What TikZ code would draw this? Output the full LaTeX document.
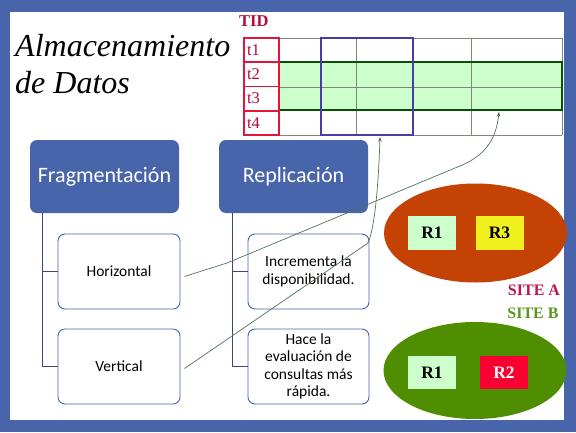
\documentclass[tikz,border=0pt]{standalone}
\usepackage{fontspec}
\setmainfont{Liberation Serif}
\newfontfamily\calib{Carlito}
\usetikzlibrary{arrows.meta,shapes.geometric}

\definecolor{frameblue}{RGB}{72,100,170}
\definecolor{treeblue}{RGB}{60,70,120}
\definecolor{tidred}{RGB}{228,20,60}
\definecolor{tidtext}{RGB}{180,10,60}
\definecolor{gridgray}{RGB}{120,140,120}
\definecolor{bandfill}{RGB}{204,255,204}
\definecolor{banddraw}{RGB}{10,80,10}
\definecolor{colblue}{RGB}{72,60,170}
\definecolor{siteared}{RGB}{196,66,4}
\definecolor{sitebgreen}{RGB}{78,142,0}
\definecolor{sitealabel}{RGB}{190,20,80}
\definecolor{siteblabel}{RGB}{90,150,30}
\definecolor{relgreen}{RGB}{204,255,204}
\definecolor{relyellow}{RGB}{240,240,30}
\definecolor{relred}{RGB}{250,0,50}
\definecolor{linkgreen}{RGB}{80,115,85}

\tikzset{
  headbox/.style={rounded corners=7pt, fill=frameblue, text=white, minimum width=149pt,
    minimum height=73pt, font=\calib\fontsize{22}{26}\selectfont},
  itembox/.style={rounded corners=7pt, draw=frameblue, fill=white, line width=0.9pt,
    minimum width=122pt, minimum height=75pt, align=center,
    font=\calib\fontsize{15.5}{17.5}\selectfont},
  treeline/.style={draw=treeblue, line width=0.9pt},
  tidcell/.style={draw=tidred, line width=1.8pt, minimum height=24.25pt, text width=29pt,
    inner sep=3pt, align=left, text=tidtext, font=\fontsize{16.5}{16.5}\selectfont},
  relbox/.style={minimum width=48pt, minimum height=34pt, inner sep=0pt,
    font=\bfseries\fontsize{17.5}{17.5}\selectfont},
  siteellipse/.style={ellipse, minimum width=183pt, minimum height=99pt, inner sep=0pt},
  sitelabel/.style={font=\bfseries\fontsize{16}{16}\selectfont, inner sep=0pt},
  link/.style={draw=linkgreen, line width=0.7pt, -{Stealth[length=5pt,width=3.5pt]}}
}

\begin{document}
\begin{tikzpicture}[x=1pt,y=-1pt]
  % slide frame
  \fill[frameblue] (0,0) rectangle (576,432);
  \fill[white] (10,12) rectangle (564,420);

  \node[anchor=base west, inner sep=0pt, align=left,
    font=\itshape\fontsize{32}{37}\selectfont] (title) at (15,93) {Almacenamiento\\de Datos};

  % table
  \node[fill=bandfill, minimum width=283pt, minimum height=48pt, inner sep=0pt] (band) at (420.5,86) {};
  \foreach \y in {38,62,87,110,135}
    \draw[gridgray, line width=0.6pt] (279,\y) -- (562,\y);
  \foreach \x in {279,321,356,413,471,562}
    \draw[gridgray, line width=0.6pt] (\x,38) -- (\x,135);
  \draw[banddraw, line width=1.8pt] (band.south west) rectangle (band.north east);
  \node[draw=colblue, line width=1.8pt, minimum width=92pt, minimum height=97pt, inner sep=0pt]
    (colsel) at (367,86.5) {};
  \node[text=tidtext, font=\bfseries\fontsize{16.5}{16.5}\selectfont, anchor=west, inner sep=0pt]
    (tid) at (239,21) {TID};
  \foreach \t [count=\i from 0] in {t1,t2,t3,t4}
    \node[tidcell] (\t) at (261.5,{50.1+24.25*\i}) {\t};

  % hierarchy
  \node[headbox] (frag) at (104.5,176.5) {Fragmentación};
  \node[headbox] (repl) at (293.5,176.5) {Replicación};
  \node[itembox] (horiz) at (119,271.5) {Horizontal};
  \node[itembox] (vert) at (119,366.5) {Vertical};
  \node[itembox, minimum width=121pt] (incr) at (308.5,271.5) {Incrementa la\\disponibilidad.};
  \node[itembox, minimum width=121pt] (fast) at (308.5,366.5) {Hace la\\evaluación de\\consultas más\\rápida.};
  \draw[treeline] ([xshift=13pt]frag.south west) |- (horiz.west);
  \draw[treeline] ([xshift=13pt]frag.south west) |- (vert.west);
  \draw[treeline] ([xshift=14pt]repl.south west) |- (incr.west);
  \draw[treeline] ([xshift=14pt]repl.south west) |- (fast.west);

  % sites
  \node[siteellipse, fill=siteared] (siteA) at (475.5,233) {};
  \node[relbox, fill=relgreen] (a1) at (432,233) {R1};
  \node[relbox, fill=relyellow] (a3) at (499.5,233) {R3};
  \node[sitelabel, text=sitealabel] (labA) at (534,290) {SITE A};
  \node[sitelabel, text=siteblabel] (labB) at (533,313) {SITE B};
  \node[siteellipse, fill=sitebgreen, minimum height=97pt] (siteB) at (475,370.5) {};
  \node[relbox, fill=relgreen, minimum height=33pt] (b1) at (432,372.5) {R1};
  \node[relbox, fill=relred, text=white, minimum height=33pt] (b2) at (504,372.5) {R2};

  % links to the table
  \coordinate (bandtip) at ([xshift=78.5pt,yshift=-1.5pt]band.south);
  \coordinate (coltip) at ([xshift=13pt,yshift=-1pt]colsel.south);
  \draw[link] ([shift={(4pt,-5pt)}]horiz.east) -- (227,263) -- (455,168)
    .. controls (485,157) and (496,140) .. (bandtip);
  \draw[link] ([shift={(4pt,-2pt)}]vert.east) -- (368,243)
    .. controls (376,225) and (379,170) .. (coltip);
\end{tikzpicture}
\end{document}
